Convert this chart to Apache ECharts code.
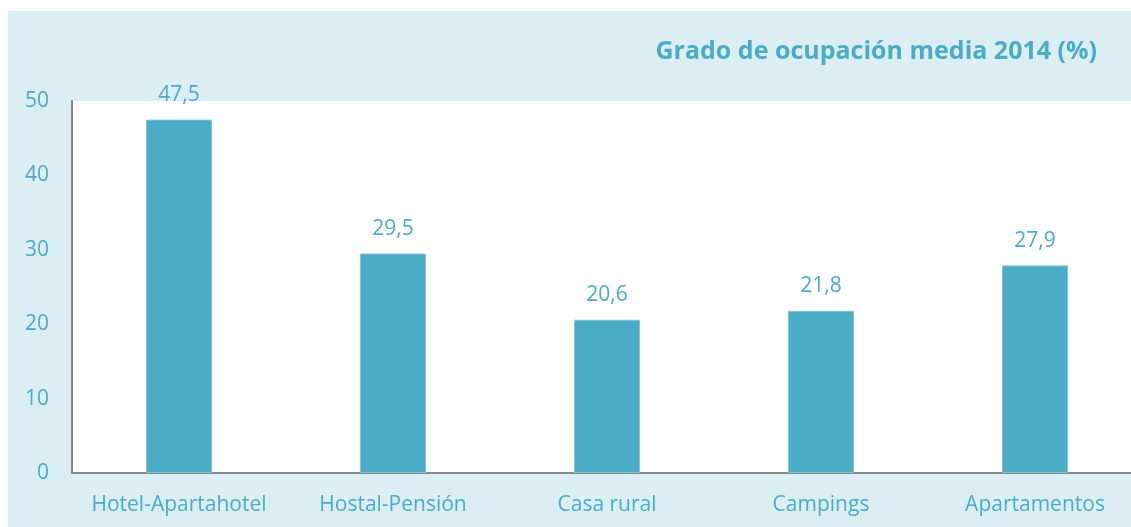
<!DOCTYPE html>
<html>
<head>
<meta charset="utf-8">
<script src="https://cdn.jsdelivr.net/npm/echarts@6/dist/echarts.min.js"></script>
<style>
html,body{margin:0;padding:0;background:#fff;}
#main{width:1131px;height:527px;}
</style>
</head>
<body>
<div id="main"></div>
<script>
// categorías y valores (grado de ocupación media 2014, %)
var categorias = ['Hotel-Apartahotel', 'Hostal-Pensión', 'Casa rural', 'Campings', 'Apartamentos'];
var ocupacion = [47.5, 29.5, 20.6, 21.8, 27.9];
var ticksY = [0, 10, 20, 30, 40, 50];

var azul = '#4BACC6';
var fuente = '"Open Sans", sans-serif';

var myChart = echarts.init(document.getElementById('main'));
var option = {
    backgroundColor: '#fff',
    animation: false,
    graphic: [{
        type: 'rect',
        z: -10,
        shape: {x: 8, y: 11, width: 1123, height: 516},
        style: {fill: '#DBEEF4'}
    }],
    title: {
        text: 'Grado de ocupación media 2014 (%)',
        right: 29,
        top: 34,
        textStyle: {color: azul, fontFamily: fuente, fontWeight: 'bold', fontSize: 25}
    },
    grid: {
        show: true,
        backgroundColor: '#fff',
        borderWidth: 0,
        outerBoundsMode: 'none',
        containLabel: false,
        left: 72,
        right: -11,
        top: 101,
        bottom: 54
    },
    xAxis: {
        type: 'category',
        data: categorias,
        axisLine: {lineStyle: {color: '#878787', width: 2}},
        axisTick: {show: false},
        axisLabel: {color: azul, fontFamily: fuente, fontSize: 21, margin: 22, interval: 0}
    },
    yAxis: {
        type: 'value',
        min: ticksY[0],
        max: ticksY[ticksY.length - 1],
        interval: 10,
        axisLine: {show: true, lineStyle: {color: '#878787', width: 2}},
        axisTick: {show: false},
        splitLine: {show: false},
        axisLabel: {color: azul, fontFamily: fuente, fontSize: 21, margin: 23}
    },
    series: [{
        type: 'bar',
        data: ocupacion,
        barWidth: 66,
        itemStyle: {color: azul, borderColor: '#84c6d8', borderWidth: 1},
        label: {
            show: true,
            position: 'top',
            distance: 14,
            color: azul,
            fontFamily: fuente,
            fontSize: 21,
            formatter: function (p) {
                return String(p.value.toFixed(1)).replace('.', ',');
            }
        }
    }]
};
myChart.setOption(option);
</script>
</body>
</html>
